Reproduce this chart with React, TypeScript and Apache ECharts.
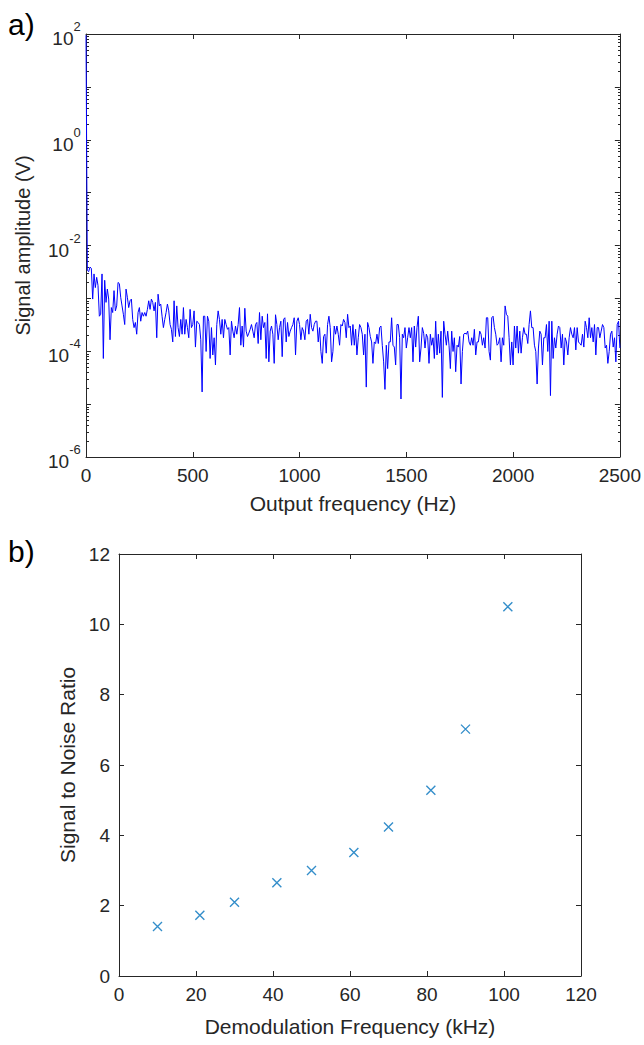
import React, { useEffect, useRef } from "react";
import * as echarts from "echarts";

// ---------- Panel a) : spectrum (frequency step 6.25 Hz, starting at 0 Hz) ----------
const FREQ_STEP_HZ = 6.25;

// 0 – 493.75 Hz
const amplitudeA = [
  95, 3.4e-3, 3.2e-3, 3.9e-3, 3.7e-3, 9.7e-4, 2.9e-3, 1.6e-3, 2.5e-3, 1.75e-3,
  4.6e-4, 5.0e-4, 2.9e-3, 7.3e-5, 2.2e-3, 8.4e-4, 1.5e-3, 9.7e-4, 1.65e-4, 6.7e-4,
  5.4e-4, 1.4e-3, 5.8e-4, 7.2e-4, 2.0e-3, 1.9e-3, 1.05e-3, 7.2e-4, 5.0e-4, 3.2e-4,
  1.5e-3, 1.05e-3, 6.7e-4, 9.0e-4, 9.7e-4, 4.0e-4, 2.8e-4, 3.5e-4, 2.1e-4, 5.4e-4,
  6.7e-4, 3.7e-4, 5.4e-4, 4.6e-4, 5.4e-4, 4.6e-4, 6.2e-4, 9.0e-4, 6.2e-4, 9.7e-4,
  8.4e-4, 5.8e-4, 8.4e-4, 1.8e-4, 1.2e-3, 7.2e-4, 7.8e-4, 4.6e-4, 2.8e-4, 4.0e-4,
  5.4e-4, 7.8e-4, 5.8e-4, 3.2e-4, 2.6e-4, 1.5e-4, 9.0e-4, 1.9e-4, 7.2e-4, 2.8e-4,
  1.9e-4, 4.0e-4, 2.1e-4, 6.7e-4, 2.1e-4, 4.0e-4, 2.8e-4, 1.8e-4, 6.2e-4, 2.8e-4,
];
// 500 – 987.5 Hz
const amplitudeB = [
  3.2e-4, 5.8e-4, 1.2e-4, 3.7e-4, 3.5e-4, 3.2e-4, 1.65e-4, 1.7e-5, 4.6e-4, 4.6e-4,
  9.9e-5, 4.6e-4, 3.7e-4, 7.3e-5, 2.8e-4, 8.5e-5, 1.8e-4, 5.5e-5, 3.2e-4, 5.8e-4,
  4.0e-4, 2.1e-4, 4.0e-4, 1.8e-4, 4.0e-4, 3.2e-4, 2.6e-4, 2.8e-4, 8.5e-5, 3.7e-4,
  2.4e-4, 1.8e-4, 3.0e-4, 2.1e-4, 3.2e-4, 6.7e-4, 1.3e-4, 3.0e-4, 1.2e-4, 6.5e-4,
  2.4e-4, 1.9e-4, 2.2e-4, 2.6e-4, 3.2e-4, 2.4e-4, 1.8e-4, 3.2e-4, 3.5e-4, 1.4e-4,
  5.4e-4, 1.65e-4, 4.6e-4, 2.8e-4, 3.5e-4, 7.3e-5, 5.1e-4, 6.3e-5, 2.4e-4, 3.0e-4,
  2.1e-4, 5.9e-5, 4.9e-4, 3.2e-4, 1.65e-4, 2.8e-4, 3.7e-4, 7.9e-5, 4.0e-4, 4.3e-4,
  1.5e-4, 3.5e-4, 1.9e-4, 2.4e-4, 2.8e-4, 3.2e-4, 4.3e-4, 8.5e-5, 3.7e-4,
];
// 993.75 – 1487.5 Hz
const amplitudeC = [
  4.3e-4, 3.2e-4, 1.65e-4, 2.8e-4, 2.4e-4, 1.65e-4, 3.7e-4, 4.0e-4, 2.1e-4, 5.0e-4,
  2.8e-4, 2.4e-4, 3.2e-4, 3.7e-4, 3.7e-4, 1.5e-4, 2.8e-4, 9.9e-5, 5.9e-5, 1.9e-4,
  2.1e-4, 9.2e-5, 3.2e-4, 4.6e-4, 2.8e-4, 6.3e-5, 9.9e-5, 3.0e-4, 2.1e-4, 3.0e-4,
  2.1e-4, 1.3e-4, 3.2e-4, 3.0e-4, 4.0e-4, 3.5e-4, 1.8e-4, 5.0e-4, 2.8e-4, 3.0e-4,
  1.3e-4, 3.2e-4, 1.3e-4, 2.6e-4, 8.5e-5, 1.8e-4, 3.2e-4, 2.8e-4, 2.1e-4, 8.5e-5,
  2.1e-4, 2.1e-5, 3.5e-4, 2.8e-4, 1.9e-4, 1.5e-4, 5.9e-5, 1.5e-4, 1.4e-4, 2.1e-4,
  1.4e-4, 2.8e-4, 3.0e-4, 1.3e-4, 6.3e-5, 1.9e-5, 1.3e-4, 4.7e-5, 1.5e-4, 1.5e-4,
  4.3e-4, 1.3e-4, 1.2e-4, 5.5e-5, 3.2e-4, 3.2e-4, 1.8e-4, 1.25e-5, 2.1e-4, 1.8e-4,
];
// 1493.75 – 1987.5 Hz
const amplitudeD = [
  2.8e-4, 1.15e-4, 1.8e-4, 2.8e-4, 1.8e-4, 2.8e-4, 6.3e-5, 3.0e-4, 1.2e-4, 2.8e-4,
  4.6e-4, 6.3e-5, 1.15e-4, 2.8e-4, 2.2e-4, 1.15e-4, 2.1e-4, 1.8e-4, 5.9e-5, 2.1e-4,
  1.3e-4, 1.8e-4, 7.3e-5, 3.7e-4, 8.5e-5, 2.1e-4, 9.2e-5, 2.4e-4, 1.34e-5, 3.7e-4,
  2.1e-4, 1.3e-4, 2.4e-4, 1.3e-4, 4.7e-5, 2.4e-4, 9.9e-5, 1.8e-4, 4.1e-5, 1.3e-4,
  1.2e-4, 1.9e-4, 2.4e-5, 9.9e-5, 2.1e-4, 2.2e-4, 2.1e-4, 2.4e-4, 1.5e-4, 1.3e-4,
  1.8e-4, 1.3e-4, 2.6e-4, 8.5e-5, 1.5e-4, 1.5e-4, 2.4e-4, 2.1e-4, 1.3e-4, 1.8e-4,
  1.15e-4, 4.3e-4, 4.3e-4, 9.9e-5, 6.8e-5, 4.3e-4, 4.6e-4, 2.8e-4, 2.1e-4, 1.3e-4,
  1.4e-4, 1.8e-4, 6.3e-5, 1.8e-4, 1.3e-4, 7.2e-4, 5.0e-4, 4.6e-4, 1.8e-4, 5.5e-5,
];
// 1993.75 – 2500 Hz
const amplitudeE = [
  1.5e-4, 5.5e-5, 3.0e-4, 1.15e-4, 3.0e-4, 9.2e-5, 2.4e-4, 9.2e-5, 1.8e-4, 2.8e-4,
  2.1e-4, 2.1e-4, 1.4e-4, 3.2e-4, 5.8e-4, 2.8e-4, 2.8e-4, 1.3e-4, 9.9e-5, 2.4e-5,
  1.15e-4, 2.4e-4, 2.1e-4, 5.5e-5, 1.8e-4, 1.8e-4, 3.2e-4, 9.9e-5, 3.7e-4, 1.45e-5,
  3.7e-4, 7.3e-5, 1.8e-4, 1.15e-4, 2.1e-4, 3.0e-4, 2.8e-4, 1.15e-4, 2.1e-4, 5.5e-5,
  1.8e-4, 1.5e-4, 8.5e-5, 1.8e-4, 2.8e-4, 2.1e-4, 1.8e-4, 2.8e-4, 1.06e-4, 2.8e-4,
  1.5e-4, 1.4e-4, 1.3e-4, 2.1e-4, 1.2e-4, 3.7e-4, 2.8e-4, 1.8e-4, 4.3e-4, 1.8e-4,
  2.8e-4, 1.5e-4, 3.2e-4, 8.5e-5, 2.8e-4, 2.8e-4, 1.8e-4, 2.4e-4, 3.2e-4, 2.8e-4,
  1.15e-4, 1.3e-4, 5.9e-5, 9.9e-5, 2.1e-4, 2.4e-4, 1.2e-4, 1.8e-4, 6.3e-5, 3.2e-4,
  3.7e-4, 1.15e-4,
];

// ---------- Panel b) : SNR vs demodulation frequency ----------
const demodFrequencyKHz = [10, 21, 30, 41, 50, 61, 70, 81, 90, 101];
const signalToNoise = [1.41, 1.73, 2.1, 2.65, 3.0, 3.51, 4.24, 5.28, 7.02, 10.5];

const FONT = '"Liberation Sans", Arial, Helvetica, sans-serif';
const AXIS = "#262626";

export default function App() {
  const ref = useRef<HTMLDivElement>(null);

  useEffect(() => {
    document.body.style.margin = "0";
    if (!ref.current) return;
    const chart = echarts.init(ref.current, null, { renderer: "svg" });

    const amplitude = [...amplitudeA, ...amplitudeB, ...amplitudeC, ...amplitudeD, ...amplitudeE];
    const spectrum = amplitude.map((v, i) => [i * FREQ_STEP_HZ, v]);
    const snrData = demodFrequencyKHz.map((f, i) => [f, signalToNoise[i]]);

    const axisLine = { show: true, onZero: false, lineStyle: { color: AXIS, width: 1 } };
    const tick = { show: true, inside: true, length: 5, lineStyle: { color: AXIS, width: 1 } };
    const noSplit = { show: false };
    const plain = (v: number) => String(v);

    const option: any = {
      animation: false,
      textStyle: { fontFamily: FONT },
      grid: [
        { left: 86, top: 34, width: 535, height: 423, containLabel: false },
        { left: 119, top: 554, width: 462, height: 422, containLabel: false },
      ],
      xAxis: [
        {
          gridIndex: 0, type: "value", min: 0, max: 2500, interval: 500, position: "bottom",
          axisLine, axisTick: tick, splitLine: noSplit,
          axisLabel: { fontSize: 19, color: AXIS, margin: 9, fontFamily: FONT, formatter: plain, showMinLabel: true, showMaxLabel: true },
          name: "Output frequency (Hz)", nameLocation: "middle", nameGap: 36,
          nameTextStyle: { fontSize: 21, color: AXIS, fontFamily: FONT },
        },
        {
          gridIndex: 0, type: "value", min: 0, max: 2500, interval: 500, position: "top",
          axisLine, axisTick: tick, splitLine: noSplit, axisLabel: { show: false },
        },
        {
          gridIndex: 1, type: "value", min: 0, max: 120, interval: 20, position: "bottom",
          axisLine, axisTick: tick, splitLine: noSplit,
          axisLabel: { fontSize: 19, color: AXIS, margin: 9, fontFamily: FONT, formatter: plain, showMinLabel: true, showMaxLabel: true },
          name: "Demodulation Frequency (kHz)", nameLocation: "middle", nameGap: 40,
          nameTextStyle: { fontSize: 21, color: AXIS, fontFamily: FONT },
        },
        {
          gridIndex: 1, type: "value", min: 0, max: 120, interval: 20, position: "top",
          axisLine, axisTick: tick, splitLine: noSplit, axisLabel: { show: false },
        },
      ],
      yAxis: [
        {
          gridIndex: 0, type: "log", logBase: 10, min: 1e-6, max: 100, position: "left",
          axisLine, axisTick: tick, splitLine: noSplit, minorTick: { show: false },
          axisLabel: {
            color: AXIS, margin: 5, fontFamily: FONT, showMinLabel: true, showMaxLabel: true,
            formatter: (value: number) => {
              const e = Math.round(Math.log10(value));
              if (e % 2 !== 0) return "";
              return `{b|10}{s|${e}}{h| }`;
            },
            rich: {
              b: { fontSize: 19, lineHeight: 16, verticalAlign: "bottom", color: AXIS, fontFamily: FONT },
              s: { fontSize: 13, lineHeight: 24, verticalAlign: "top", color: AXIS, fontFamily: FONT },
              h: { fontSize: 1, lineHeight: 28, verticalAlign: "middle", color: AXIS, fontFamily: FONT },
            },
          },
          name: "Signal amplitude (V)", nameLocation: "middle", nameGap: 53,
          nameTextStyle: { fontSize: 20, color: AXIS, fontFamily: FONT },
        },
        {
          gridIndex: 0, type: "log", logBase: 10, min: 1e-6, max: 100, position: "right",
          axisLine, axisTick: tick, splitLine: noSplit, axisLabel: { show: false },
        },
        {
          gridIndex: 1, type: "value", min: 0, max: 12, interval: 2, position: "left",
          axisLine, axisTick: tick, splitLine: noSplit,
          axisLabel: { fontSize: 19, color: AXIS, margin: 9, fontFamily: FONT, formatter: plain, showMinLabel: true, showMaxLabel: true },
          name: "Signal to Noise Ratio", nameLocation: "middle", nameGap: 39,
          nameTextStyle: { fontSize: 21, color: AXIS, fontFamily: FONT },
        },
        {
          gridIndex: 1, type: "value", min: 0, max: 12, interval: 2, position: "right",
          axisLine, axisTick: tick, splitLine: noSplit, axisLabel: { show: false },
        },
      ],
      series: [
        {
          type: "line", xAxisIndex: 0, yAxisIndex: 0, data: spectrum,
          showSymbol: false, symbol: "none", clip: true,
          lineStyle: { color: "#0000FF", width: 1 }, z: 1,
        },
        {
          type: "scatter", xAxisIndex: 2, yAxisIndex: 2, data: snrData,
          symbol: "path://M0 0L10 10M10 0L0 10", symbolSize: 9,
          itemStyle: { color: "rgba(0,0,0,0)", borderColor: "#0072BD", borderWidth: 1.4 },
        },
      ],
    };

    chart.setOption(option);

    // minor log ticks (2..9 x 10^d) on left and right sides of panel a)
    const graphics: any[] = [];
    const leftX = 86, rightX = 621;
    for (let d = -6; d < 2; d++) {
      for (let m = 2; m <= 9; m++) {
        const y = chart.convertToPixel({ yAxisIndex: 0 }, m * Math.pow(10, d)) as number;
        const ys = Math.round(y) + 0.5;
        graphics.push({ type: "line", silent: true, shape: { x1: leftX, y1: ys, x2: leftX + 3, y2: ys }, style: { stroke: AXIS, lineWidth: 1 } });
        graphics.push({ type: "line", silent: true, shape: { x1: rightX - 3, y1: ys, x2: rightX, y2: ys }, style: { stroke: AXIS, lineWidth: 1 } });
      }
    }
    graphics.push({ type: "text", left: 8, top: 9, style: { text: "a)", fontSize: 30, fill: "#000", fontFamily: FONT } });
    graphics.push({ type: "text", left: 8, top: 536, style: { text: "b)", fontSize: 30, fill: "#000", fontFamily: FONT } });
    chart.setOption({ graphic: graphics });

    return () => chart.dispose();
  }, []);

  return <div ref={ref} style={{ width: 644, height: 1045 }} />;
}
